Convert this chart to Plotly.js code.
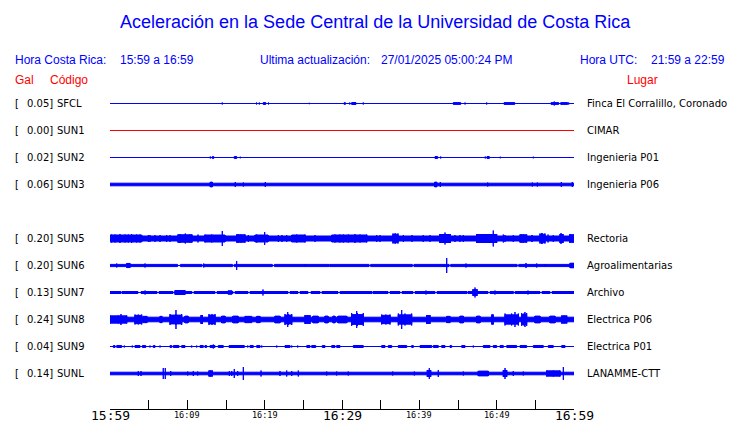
<!DOCTYPE html>
<html><head><meta charset="utf-8">
<script src="https://cdn.plot.ly/plotly-3.0.1.min.js"></script>
<style>html,body{margin:0;padding:0;background:#fff}</style>
</head><body><div id="chart" style="width:740px;height:423px"></div>
<script>
// ---- data ----
const channelOrder = ['SFCL','SUN1','SUN2','SUN3','SUN4','SUN5','SUN6','SUN7','SUN8','SUN9','SUNL'];
const stations = ['SFCL','SUN1','SUN2','SUN3','SUN5','SUN6','SUN7','SUN8','SUN9','SUNL'];
const peakGal = ['0.05','0.00','0.02','0.06','0.20','0.20','0.13','0.24','0.04','0.14'];
const places = ['Finca El Corralillo, Coronado','CIMAR','Ingenieria P01','Ingenieria P06','Rectoria',
  'Agroalimentarias','Archivo','Electrica P06','Electrica P01','LANAMME-CTT'];
const tickMinutes = [0,10,20,30,40,50,60];
const tickLabels = ['15:59','16:09','16:19','16:29','16:39','16:49','16:59'];
const majorTick = [true,false,false,true,false,false,true];
// background amplitude of each trace (display counts)
const baseAmp = [0,0,0,1.8,3.0,1.6,1.5,2.8,0,1.8];
// events: [start minute, end minute, amplitude]
const sfclEvents = [[14.52,14.52,1.5],[18.94,18.94,1.5],[19.31,19.31,1.5],[19.82,20.13,1.5],[20.50,20.50,1.5],
  [25.77,25.77,1.2],[30.26,30.45,1.3],[31.00,31.00,1.5],[31.25,31.81,1.5],[32.75,32.75,1.5],[34.31,34.31,1],
  [34.95,34.95,1],[44.39,45.35,1.4],[45.91,45.91,1.5],[48.71,48.71,1.5],[50.95,52.33,1.4],[57.03,58.02,1.4],
  [57.45,57.45,2.5],[58.28,59.19,1.4],[59.31,59.31,1.5]];
const sun1Events = [];
const sun2Events = [[7.41,7.41,1],[12.97,12.97,1.5],[13.23,13.41,1.5],[14.09,14.09,1],[16.07,16.38,1.5],
  [16.85,16.85,1.3],[36.76,36.76,1],[37.28,37.28,1],[42.03,42.37,1.5],[42.76,42.76,1.5],[48.53,48.53,1.5],
  [48.75,49.05,1.5],[50.47,50.47,1.3],[51.89,51.89,1],[54.74,54.74,1.3],[55.25,55.25,1],[56.16,56.16,1]];
const sun3Events = [[12.97,13.23,3],[16.20,16.20,3],[17.24,17.24,2.5],[20.08,20.08,3],[41.99,42.25,3],
  [42.71,42.71,3],[48.84,48.84,2.5],[54.61,54.61,2.5],[55.26,55.26,2.5],[58.36,58.36,3],[59.78,59.78,3]];
const sun5Events = [[0,4.10,4],[5.17,5.17,4],[6.47,6.47,4],[7.76,7.76,4],[8.79,10.60,4.5],
  [9.74,9.74,5.5],[11.38,11.38,4.5],[12.28,14.87,4],[14.52,14.52,8],[16.38,17.46,4.5],[18.75,20.43,4],
  [20.00,20.00,7],[22.24,22.24,4],[23.50,25.22,4],[26.51,26.51,4],[28.67,33.19,4],[31.68,31.68,5],
  [34.91,34.91,4],[36.59,37.24,5.5],[39.05,39.05,4],[41.38,41.38,4],[42.67,43.97,5],[43.32,43.32,6.5],
  [45.26,45.26,4],[47.42,50.00,5],[49.56,49.56,8.5],[51.08,51.08,4],[53.02,53.88,4.5],[54.57,54.57,4],
  [55.60,56.25,5.5],[56.64,56.64,4.5],[58.19,58.58,5],[58.32,58.32,6],[59.48,60,4.5],
  [0.22,0.22,4.5],[0.65,0.65,4.5],[1.29,1.29,5],[1.94,1.94,4.5],[2.37,2.37,4.5],[2.80,2.80,5],[3.45,3.45,4.5],
  [3.88,3.88,4.5],[4.96,4.96,4],[5.82,5.82,4],[7.33,7.33,4],[9.05,9.05,5],[10.34,10.34,4.5],[12.28,12.28,4.5],
  [13.15,13.15,4.5],[16.59,16.59,5],[17.89,17.89,4],[18.97,18.97,4.5],[21.77,21.77,4],[22.85,22.85,4],
  [24.14,24.14,4.5],[25.22,25.22,4.5],[29.09,29.09,4.5],[29.74,29.74,4.5],[30.17,30.17,4.5],[30.82,30.82,4.5],
  [32.33,32.33,4.5],[33.19,33.19,4.5],[34.49,34.49,4],[36.85,36.85,5.5],[37.93,37.93,4],[40.51,40.51,4],
  [42.67,42.67,5],[43.97,43.97,5],[44.61,44.61,4],[45.69,45.69,4],[47.84,47.84,5],[48.71,48.71,5],
  [50.86,50.86,4.5],[52.15,52.15,4],[53.24,53.24,4.5],[54.53,54.53,4],[55.82,55.82,6],[57.32,57.32,4],
  [58.41,58.41,5],[59.48,59.48,5]];
const sun6Events = [[0.87,0.87,2.5],[2.16,2.59,2.5],[4.53,4.53,2.5],[12.12,12.12,2.5],[16.38,16.38,5],
  [25.22,25.22,2],[28.49,28.49,2],[43.54,43.54,8],[46.03,46.03,2.5],[53.79,53.79,3],[55.18,55.18,2.5],
  [56.25,56.25,2],[59.5,60,3]];
const sun6Gaps = [[8.75,9.09],[11.9,12.05],[15.85,16.05],[21.0,21.25],[28.35,28.45],[33.5,33.7],
  [39.1,39.3],[43.85,44.05],[52.65,52.85]];
const sun7Events = [[4.53,4.53,2.5],[8.41,9.70,2.5],[13.97,13.97,2],[15.26,15.78,2],[19.78,19.78,3.5],
  [40.86,40.86,2.5],[46.94,47.46,4],[47.20,47.20,5.5],[49.78,49.78,2.5],[52.11,52.11,2],[54.05,54.05,2.5]];
const sun7Gaps = [[1.42,1.55],[3.62,4.01],[6.08,6.34],[8.15,8.41],[10.60,10.86],[13.58,13.84],[15.91,16.17],
  [17.85,18.10],[23.02,23.28],[24.31,24.57],[25.60,25.99],[27.16,27.41],[29.48,29.74],[33.88,34.01],
  [35.95,36.21],[37.50,37.76],[39.18,39.44],[42.03,42.28],[46.16,46.29],[48.88,49.14],[52.11,52.37],
  [55.60,55.86],[56.90,57.16]];
const sun8Events = [[0,2.16,4.5],[1.42,1.42,6],[3.23,4.10,5.5],[4.27,4.78,3.5],[6.47,6.72,3.5],[7.76,9.27,6],
  [8.53,8.53,10],[9.70,10.09,4],[11.77,11.94,5],[12.80,13.58,6],[14.44,14.87,4],[15.90,16.55,4],
  [17.46,18.32,3.5],[18.97,19.40,3.5],[21.34,21.98,4],[22.63,23.50,6],[22.98,22.98,8],[25.22,25.86,5],
  [26.25,26.90,4],[27.80,28.19,4],[28.84,29.09,4],[29.48,30.61,4],[31.25,32.75,7],[31.90,31.90,9],
  [35.13,36.21,5.5],[37.28,39.01,6.5],[37.72,37.72,10],[40.95,41.38,5],[43.54,43.97,3.5],[45.26,45.69,4],
  [47.42,47.84,4],[49.36,49.56,5.5],[51.08,52.80,6.5],[52.37,52.37,8],[53.24,53.88,7],[53.66,53.66,8],
  [54.96,55.60,4],[56.90,57.54,4],[58.41,59.06,4.5]];
const sun9Events = [[0.43,0.65,1.5],[0.87,1.51,1.5],[1.85,1.85,1.5],[2.88,2.88,1.5],[3.23,3.88,1.5],
  [4.18,4.62,1.5],[5.17,5.17,1.5],[5.60,5.82,1.5],[6.47,6.47,1.5],[7.76,7.98,1.5],[8.19,8.92,1.5],
  [9.27,9.70,1.5],[10.56,10.56,1.5],[11.21,11.21,1.5],[11.64,12.06,1.5],[12.28,12.50,1.5],[12.93,13.58,1.5],
  [13.36,13.36,2.5],[14.00,14.65,1.5],[15.39,17.37,1.5],[17.81,17.81,1.5],[18.10,18.53,1.5],[18.97,19.40,1.5],
  [19.62,19.62,1.5],[21.56,21.56,1.5],[22.63,23.28,1.5],[23.50,23.50,1.5],[24.27,24.27,1.5],[25.44,25.86,1.5],
  [26.08,26.60,1.5],[27.45,27.80,1.5],[28.67,29.09,1.5],[29.31,29.74,1.5],[31.46,32.75,1.5],[35.13,35.56,1.5],
  [35.99,36.43,1.5],[37.28,38.37,1.5],[39.01,39.22,1.5],[40.09,41.60,1.5],[41.81,42.45,1.5],[42.89,43.32,1.5],
  [43.97,44.18,1.5],[45.48,45.91,1.5],[46.98,46.98,1.5],[48.27,49.14,1.5],[49.56,50.00,1.5],[50.43,50.86,1.5],
  [51.30,52.59,1.5],[53.02,53.88,1.5],[54.74,56.03,1.5],[56.68,57.32,1.5],[58.41,58.84,1.5]];
const sunlEvents = [[3.66,3.66,3],[4.01,4.01,3],[6.89,6.89,6],[7.15,7.15,6],[7.85,7.85,3],[10.05,10.05,2.5],
  [10.77,10.77,3],[11.34,11.34,2.5],[12.80,13.23,3.5],[15.43,15.43,3],[15.74,15.74,3],[16.07,16.07,5],
  [16.51,16.51,3],[17.24,17.24,7],[19.53,19.53,3.5],[21.98,21.98,3],[22.85,22.85,3.5],[23.50,23.50,3],
  [24.35,24.35,3.5],[28.02,28.02,2.5],[29.31,29.31,2.5],[30.81,30.81,2.5],[36.56,36.56,2.5],[39.35,39.35,2.5],
  [41.03,41.47,4],[41.29,41.29,6],[42.45,42.45,4],[45.69,45.69,2.5],[47.62,48.92,3],[50.86,51.30,4],
  [51.08,51.08,6],[52.15,52.15,3],[53.44,53.44,2.5],[56.47,58.19,3.5],[58.62,58.62,7]];

const eventLists = [sfclEvents,sun1Events,sun2Events,sun3Events,sun5Events,sun6Events,sun7Events,sun8Events,sun9Events,sunlEvents];
const gapLists = [[],[],[],[],[],sun6Gaps,sun7Gaps,[],[],[]];

// ---- drawing ----
const BLUE = '#0000ff', RED = '#ff0000';
const ROW_PX = 27;              // px between channels
const PLOT_TOP = 90, PLOT_BOT = 409, PLOT_L = 110, PLOT_R = 574;
const FIRST_ROW_PX = 103.5;
const yTop = (FIRST_ROW_PX - PLOT_TOP) / ROW_PX;
const yBot = -(PLOT_BOT - FIRST_ROW_PX) / ROW_PX;
const W = 740, H = 423;
const px2paperX = p => (p - PLOT_L) / (PLOT_R - PLOT_L);
const px2paperY = p => (PLOT_BOT - p) / (PLOT_BOT - PLOT_TOP);
const toY = a => Math.max(a - 0.5, 0) / ROW_PX;

const traces = [];
stations.forEach((st, i) => {
  const yc = -channelOrder.indexOf(st);
  const xs = [], ys = [];
  const rect = (x0, x1, a) => {
    const h = toY(a);
    xs.push(x0, x1, x1, x0, x0, null);
    ys.push(yc + h, yc + h, yc - h, yc - h, yc + h, null);
  };
  rect(0, 60, 0);
  let start = 0;
  gapLists[i].forEach(g => { rect(start, g[0], baseAmp[i]); start = g[1]; });
  rect(start, 60, baseAmp[i]);
  eventLists[i].forEach(e => {
    if (e[1] > e[0] && baseAmp[i] > 0) {
      // burst on a noisy trace: a core band with peak strokes at its ends and centre
      rect(e[0], e[1], (e[2] + baseAmp[i]) / 2 + 0.5);
      [e[0], (e[0] + e[1]) / 2, e[1]].forEach(t => rect(t, t, e[2]));
    } else rect(e[0], e[1], e[2]);
  });
  const col = st === 'SUN1' ? RED : BLUE;
  traces.push({x: xs, y: ys, type: 'scatter', mode: 'lines', fill: 'toself', fillcolor: col,
    line: {color: col, width: 1}, hoverinfo: 'skip', showlegend: false, connectgaps: false});
});

const ann = [];
const base = {showarrow: false, borderpad: 0, borderwidth: 0};
const txt = (text, xpx, ypx, anchor, color, size, family) => ann.push(Object.assign({
  text, xref: 'paper', yref: 'paper', x: px2paperX(xpx), y: px2paperY(ypx), xanchor: anchor, yanchor: 'middle',
  font: {color, size, family: family || 'Liberation Sans, Arial, sans-serif'}}, base));

txt('Hora Costa Rica:', 15, 60, 'left', BLUE, 12);
txt('15:59 a 16:59', 120, 60, 'left', BLUE, 12);
txt('Ultima actualización:', 260, 60, 'left', BLUE, 12);
txt('27/01/2025 05:00:24 PM', 381, 60, 'left', BLUE, 12);
txt('Hora UTC:', 580, 60, 'left', BLUE, 12);
txt('21:59 a 22:59', 725, 60, 'right', BLUE, 12);
txt('Gal', 15, 80, 'left', RED, 12);
txt('Código', 50, 80, 'left', RED, 12);
txt('Lugar', 627, 80, 'left', RED, 12);

stations.forEach((st, i) => {
  const yc = -channelOrder.indexOf(st);
  const rowAnn = (text, xpx, anchor) => ann.push(Object.assign({text, xref: 'paper', yref: 'y', x: px2paperX(xpx), y: yc,
    xanchor: anchor, yanchor: 'middle', font: {color: '#000', size: 10, family: 'DejaVu Sans'}}, base));
  rowAnn('[', 15, 'left');
  rowAnn(peakGal[i] + ']', 53, 'right');
  rowAnn(st, 57, 'left');
  rowAnn(places[i], 587, 'left');
});

tickMinutes.forEach((m, i) => ann.push(Object.assign({text: tickLabels[i], xref: 'x', yref: 'paper', x: m,
  y: px2paperY(majorTick[i] ? 415.5 : 415), xanchor: 'center', yanchor: 'middle',
  font: {color: '#000', size: majorTick[i] ? 13 : 8.5, family: 'DejaVu Sans Mono'}}, base)));

const layout = {
  width: W, height: H,
  margin: {l: PLOT_L, r: W - PLOT_R, t: PLOT_TOP, b: H - PLOT_BOT, pad: 0},
  paper_bgcolor: '#fff', plot_bgcolor: '#fff',
  title: {text: 'Aceleración en la Sede Central de la Universidad de Costa Rica', x: 0.507, xanchor: 'center',
    y: 1 - 22 / H, yanchor: 'middle', font: {color: BLUE, size: 18, family: 'Liberation Sans, Arial, sans-serif'}},
  xaxis: {range: [0, 60], tickvals: [0,5,10,15,20,25,30,35,40,45,50,55,60], ticks: 'inside', ticklen: 9,
    tickcolor: '#000', tickwidth: 1, showticklabels: false, showgrid: false, zeroline: false,
    showline: true, linecolor: '#000', linewidth: 1, fixedrange: true},
  yaxis: {range: [yBot, yTop], visible: false, showgrid: false, zeroline: false, fixedrange: true},
  annotations: ann,
  showlegend: false
};
Plotly.newPlot('chart', traces, layout, {staticPlot: true, displayModeBar: false});
</script></body></html>
